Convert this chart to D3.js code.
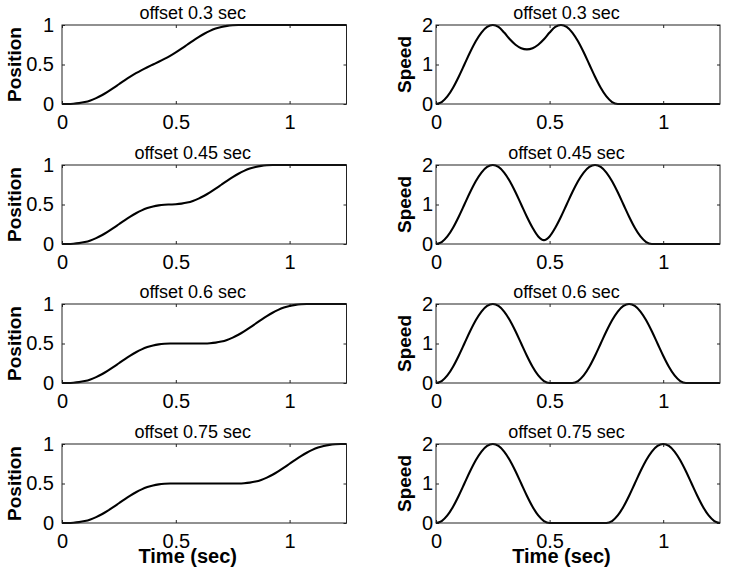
<!DOCTYPE html>
<html>
<head>
<meta charset="utf-8">
<script src="https://cdn.jsdelivr.net/npm/d3@7"></script>
<style>
  html, body { margin: 0; padding: 0; background: #fff; }
  svg { display: block; font-family: "Liberation Sans", Arial, Helvetica, sans-serif; }
</style>
</head>
<body>
<div id="chart"></div>
<script>
// ---- Data ----
const time = [0,0.025,0.05,0.075,0.1,0.125,0.15,0.175,0.2,0.225,0.25,0.275,0.3,0.325,0.35,0.375,0.4,0.425,0.45,0.475,0.5,0.525,0.55,0.575,0.6,0.625,0.65,0.675,0.7,0.725,0.75,0.775,0.8,0.825,0.85,0.875,0.9,0.925,0.95,0.975,1,1.025,1.05,1.075,1.1,1.125,1.15,1.175,1.2,1.225,1.25];

const titles = ["offset 0.3 sec", "offset 0.45 sec", "offset 0.6 sec", "offset 0.75 sec"];

const position03 = [0,0.0004,0.0032,0.0106,0.0243,0.0454,0.0743,0.1106,0.1532,0.2004,0.25,0.2996,0.3468,0.3898,0.4289,0.4652,0.5,0.5348,0.5711,0.6102,0.6532,0.7004,0.75,0.7996,0.8468,0.8894,0.9257,0.9546,0.9757,0.9894,0.9968,0.9996,1,1,1,1,1,1,1,1,1,1,1,1,1,1,1,1,1,1,1];
const speed03 = [0,0.049,0.191,0.412,0.691,1,1.309,1.588,1.809,1.951,2,1.951,1.809,1.637,1.5,1.412,1.382,1.412,1.5,1.637,1.809,1.951,2,1.951,1.809,1.588,1.309,1,0.691,0.412,0.191,0.049,0,0,0,0,0,0,0,0,0,0,0,0,0,0,0,0,0,0,0];

const position045 = [0,0.0004,0.0032,0.0106,0.0243,0.0454,0.0743,0.1106,0.1532,0.2004,0.25,0.2996,0.3468,0.3894,0.4257,0.4546,0.4757,0.4894,0.4968,0.5,0.5032,0.5106,0.5243,0.5454,0.5743,0.6106,0.6532,0.7004,0.75,0.7996,0.8468,0.8894,0.9257,0.9546,0.9757,0.9894,0.9968,0.9996,1,1,1,1,1,1,1,1,1,1,1,1,1];
const speed045 = [0,0.049,0.191,0.412,0.691,1,1.309,1.588,1.809,1.951,2,1.951,1.809,1.588,1.309,1,0.691,0.412,0.191,0.098,0.191,0.412,0.691,1,1.309,1.588,1.809,1.951,2,1.951,1.809,1.588,1.309,1,0.691,0.412,0.191,0.049,0,0,0,0,0,0,0,0,0,0,0,0,0];

const position06 = [0,0.0004,0.0032,0.0106,0.0243,0.0454,0.0743,0.1106,0.1532,0.2004,0.25,0.2996,0.3468,0.3894,0.4257,0.4546,0.4757,0.4894,0.4968,0.4996,0.5,0.5,0.5,0.5,0.5,0.5004,0.5032,0.5106,0.5243,0.5454,0.5743,0.6106,0.6532,0.7004,0.75,0.7996,0.8468,0.8894,0.9257,0.9546,0.9757,0.9894,0.9968,0.9996,1,1,1,1,1,1,1];
const speed06 = [0,0.049,0.191,0.412,0.691,1,1.309,1.588,1.809,1.951,2,1.951,1.809,1.588,1.309,1,0.691,0.412,0.191,0.049,0,0,0,0,0,0.049,0.191,0.412,0.691,1,1.309,1.588,1.809,1.951,2,1.951,1.809,1.588,1.309,1,0.691,0.412,0.191,0.049,0,0,0,0,0,0,0];

const position075 = [0,0.0004,0.0032,0.0106,0.0243,0.0454,0.0743,0.1106,0.1532,0.2004,0.25,0.2996,0.3468,0.3894,0.4257,0.4546,0.4757,0.4894,0.4968,0.4996,0.5,0.5,0.5,0.5,0.5,0.5,0.5,0.5,0.5,0.5,0.5,0.5004,0.5032,0.5106,0.5243,0.5454,0.5743,0.6106,0.6532,0.7004,0.75,0.7996,0.8468,0.8894,0.9257,0.9546,0.9757,0.9894,0.9968,0.9996,1];
const speed075 = [0,0.049,0.191,0.412,0.691,1,1.309,1.588,1.809,1.951,2,1.951,1.809,1.588,1.309,1,0.691,0.412,0.191,0.049,0,0,0,0,0,0,0,0,0,0,0,0.049,0.191,0.412,0.691,1,1.309,1.588,1.809,1.951,2,1.951,1.809,1.588,1.309,1,0.691,0.412,0.191,0.049,0];

const positionSeries = [position03, position045, position06, position075];
const speedSeries = [speed03, speed045, speed06, speed075];

const xTicks = [0, 0.5, 1];
const xTickLabels = ["0", "0.5", "1"];
const positionTicks = [0, 0.5, 1];
const positionTickLabels = ["0", "0.5", "1"];
const speedTicks = [0, 1, 2];
const speedTickLabels = ["0", "1", "2"];

// ---- Layout ----
const W = 729, H = 578;
const svg = d3.select("#chart").append("svg").attr("width", W).attr("height", H);

const rowTops = [25, 165, 304, 444];
const plotH = 79;
const columns = [
  { x0: 62, x1: 346.5, label: "Position", series: positionSeries, yDomain: [0, 1], ticks: positionTicks, tickLabels: positionTickLabels, labelPad: 8, ylabelOffset: 41 },
  { x0: 436, x1: 720, label: "Speed", series: speedSeries, yDomain: [0, 2], ticks: speedTicks, tickLabels: speedTickLabels, labelPad: 3, ylabelOffset: 25.5 }
];

const tickFont = 20;

columns.forEach((col) => {
  rowTops.forEach((top, r) => {
    const x = d3.scaleLinear().domain([0, 1.25]).range([col.x0, col.x1]);
    const y = d3.scaleLinear().domain(col.yDomain).range([top + plotH, top]);
    const g = svg.append("g");

    // bottom axis with inward ticks
    const xb = g.append("g").attr("transform", `translate(0,${top + plotH})`)
      .call(d3.axisBottom(x).tickValues(xTicks).tickFormat((d, i) => xTickLabels[i]).tickSizeInner(-3).tickSizeOuter(0).tickPadding(10.5));
    // top axis ticks
    const xt = g.append("g").attr("transform", `translate(0,${top})`)
      .call(d3.axisTop(x).tickValues(xTicks).tickFormat("").tickSizeInner(-3).tickSizeOuter(0));
    // left axis
    const yl = g.append("g").attr("transform", `translate(${col.x0},0)`)
      .call(d3.axisLeft(y).tickValues(col.ticks).tickFormat((d, i) => col.tickLabels[i]).tickSizeInner(-3).tickSizeOuter(0).tickPadding(col.labelPad));
    // right axis ticks
    const yr = g.append("g").attr("transform", `translate(${col.x1},0)`)
      .call(d3.axisRight(y).tickValues(col.ticks).tickFormat("").tickSizeInner(-3).tickSizeOuter(0));

    [xb, xt, yl, yr].forEach(a => {
      a.select(".domain").remove();
      a.selectAll("line").attr("stroke", "#222");
      a.selectAll("text").attr("font-size", tickFont).attr("fill", "#000")
        .attr("font-family", "'Liberation Sans', Arial, Helvetica, sans-serif");
    });

    // curve
    const data = time.map((t, i) => [t, col.series[r][i]]);
    const line = d3.line().x(d => x(d[0])).y(d => y(d[1])).curve(d3.curveMonotoneX);
    g.append("path").datum(data).attr("d", line)
      .attr("fill", "none").attr("stroke", "#000").attr("stroke-width", 2.1)
      .attr("stroke-linejoin", "round");

    // box
    g.append("rect").attr("x", col.x0).attr("y", top)
      .attr("width", col.x1 - col.x0).attr("height", plotH)
      .attr("fill", "none").attr("stroke", "#222").attr("stroke-width", 1);

    // title
    g.append("text").attr("x", (col.x0 + col.x1) / 2 - 11.5).attr("y", top - 6)
      .attr("text-anchor", "middle").attr("font-size", 18).text(titles[r]);

    // y label
    const cy = top + plotH / 2;
    const lx = col.x0 - col.ylabelOffset;
    g.append("text").attr("transform", `translate(${lx},${cy}) rotate(-90)`)
      .attr("text-anchor", "middle").attr("font-size", 19).attr("font-weight", "bold")
      .text(col.label);

    // x label on bottom row
    if (r === rowTops.length - 1) {
      g.append("text").attr("x", (col.x0 + col.x1) / 2 - 16.5).attr("y", top + plotH + 40)
        .attr("text-anchor", "middle").attr("font-size", 20).attr("font-weight", "bold")
        .text("Time (sec)");
    }
  });
});
</script>
</body>
</html>
